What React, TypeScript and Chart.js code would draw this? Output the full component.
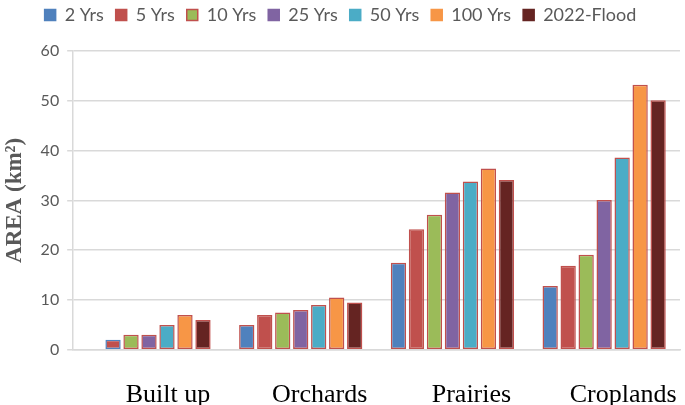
import { useEffect, useRef } from "react";
import { Chart, registerables } from "chart.js";
import type { ChartConfiguration, Plugin } from "chart.js";

Chart.register(...registerables);

const CATEGORIES = ["Built up", "Orchards", "Prairies", "Croplands"];

const yrs2 = [null, 5, 17.5, 12.8];
const yrs5 = [2, 7, 24.2, 16.9];
const yrs10 = [3, 7.5, 27.1, 19.1];
const yrs25 = [3, 8, 31.6, 30.1];
const yrs50 = [5, 9, 33.8, 38.6];
const yrs100 = [7, 10.5, 36.4, 53.2];
const flood2022 = [6, 9.5, 34.1, 50.1];

const RED_EDGE = "#C0504D";

const SERIES = [
  { label: "2 Yrs", data: yrs2, color: "#4F81BD" },
  { label: "5 Yrs", data: yrs5, color: "#C0504D" },
  { label: "10 Yrs", data: yrs10, color: "#9BBB59" },
  { label: "25 Yrs", data: yrs25, color: "#8064A2" },
  { label: "50 Yrs", data: yrs50, color: "#4BACC6" },
  { label: "100 Yrs", data: yrs100, color: "#F79646" },
  { label: "2022-Flood", data: flood2022, color: "#652422" },
];

// extra room under the legend
const legendGap: Plugin<"bar"> = {
  id: "legendGap",
  beforeInit(chart: any) {
    const fit = chart.legend.fit;
    chart.legend.fit = function () {
      fit.bind(chart.legend)();
      this.height += 17;
    };
  },
};

export default function App() {
  const canvasRef = useRef<HTMLCanvasElement | null>(null);

  useEffect(() => {
    document.body.style.margin = "0";
    const ctx = canvasRef.current!.getContext("2d")!;

    const config: ChartConfiguration<"bar", (number | null)[], string> = {
      type: "bar",
      data: {
        labels: CATEGORIES,
        datasets: SERIES.map((s) => ({
          label: s.label,
          data: s.data,
          backgroundColor: s.color,
          // the 5 Yrs bar of Built up has a blue edge in the source
          borderColor: s.label === "5 Yrs" ? ["#4F81BD", RED_EDGE, RED_EDGE, RED_EDGE] : RED_EDGE,
          borderWidth: 1.5,
          borderSkipped: false,
          barPercentage: 0.85,
          categoryPercentage: 0.83,
        })),
      },
      options: {
        responsive: true,
        maintainAspectRatio: false,
        animation: false,
        layout: { padding: { top: -6, right: 5, left: 1, bottom: -28 } },
        plugins: {
          legend: {
            position: "top",
            labels: {
              boxWidth: 11,
              boxHeight: 11,
              padding: 12,
              color: "#595959",
              font: { family: "Lato", size: 18 },
              generateLabels: () =>
                SERIES.map((s, i) => ({
                  text: s.label,
                  fillStyle: s.color,
                  strokeStyle: i === 2 ? RED_EDGE : s.color,
                  lineWidth: 1.5,
                  fontColor: "#595959",
                  datasetIndex: i,
                  hidden: false,
                })),
            },
          },
          tooltip: { enabled: false },
        },
        scales: {
          x: {
            grid: { display: false },
            border: { display: true, color: "#D9D9D9", width: 1.5 },
            ticks: {
              color: "#000000",
              font: { family: "Liberation Serif", size: 26 },
              labelOffset: 19,
              padding: 22,
            },
          },
          y: {
            min: 0,
            max: 60,
            ticks: {
              stepSize: 10,
              color: "#595959",
              font: { family: "Lato", size: 16 },
              padding: 8,
            },
            grid: { color: "#D9D9D9", lineWidth: 1.5, tickLength: 6 },
            border: { display: true, color: "#D9D9D9", width: 1.5 },
            title: {
              display: true,
              text: "AREA (km²)",
              color: "#595959",
              font: { family: "Liberation Serif", size: 23, weight: "bold" },
              padding: { top: 0, bottom: 4 },
            },
          },
        },
      },
      plugins: [legendGap],
    };

    const chart = new Chart(ctx, config);
    return () => chart.destroy();
  }, []);

  return (
    <div style={{ width: 685, height: 405, position: "relative" }}>
      <canvas ref={canvasRef} />
    </div>
  );
}
